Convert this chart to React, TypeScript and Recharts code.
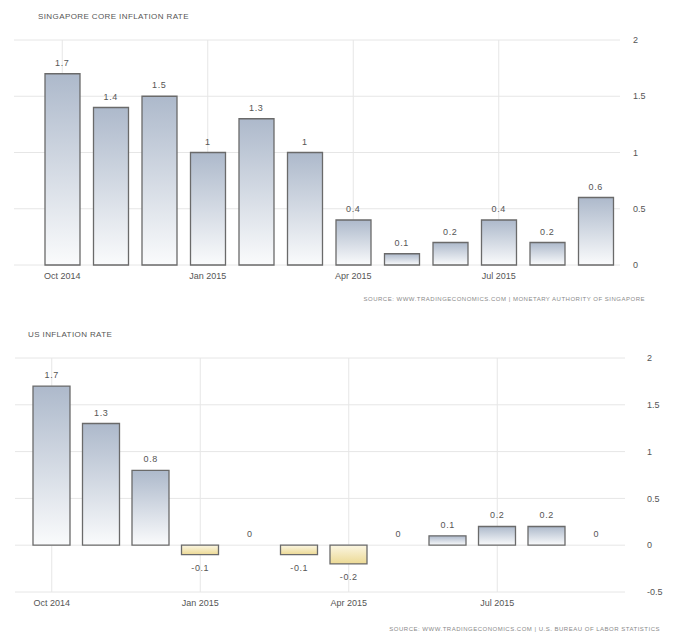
import { ComposedChart, Bar, Line, XAxis, YAxis, CartesianGrid, Cell, LabelList } from "recharts";

const months = [
  "Oct 2014", "Nov 2014", "Dec 2014", "Jan 2015", "Feb 2015", "Mar 2015",
  "Apr 2015", "May 2015", "Jun 2015", "Jul 2015", "Aug 2015", "Sep 2015",
];
const sgValues = [1.7, 1.4, 1.5, 1, 1.3, 1, 0.4, 0.1, 0.2, 0.4, 0.2, 0.6];
const usValues = [1.7, 1.3, 0.8, -0.1, 0, -0.1, -0.2, 0, 0.1, 0.2, 0.2, 0];
const sgTicks = [0, 0.5, 1, 1.5, 2];
const usTicks = [-0.5, 0, 0.5, 1, 1.5, 2];

const sgData = months.map((month, i) => ({ month, value: sgValues[i] }));
const usData = months.map((month, i) => ({ month, value: usValues[i] }));

const FONT = "'Liberation Sans', Arial, sans-serif";
const TEXT = "#555";

const sgPad = { left: 24, right: 0 };
const usPad = { left: 12, right: 4 };

// labels hang off an invisible line through the bar ends, so zero values get one too
function ValueLabel(props: any) {
  const { x, y, value } = props;
  const ty = value < 0 ? y + 16 : y - 8;
  return (
    <text x={x} y={ty} textAnchor="middle" fontSize={9} fill={TEXT} fontFamily={FONT} letterSpacing={0.6}>
      {value}
    </text>
  );
}

// vertical grid lines only under the shown month labels (same band layout as the x axis)
function quarterLines(pad: { left: number; right: number }) {
  return ({ offset }: any) => {
    const start = offset.left + pad.left;
    const band = (offset.width - pad.left - pad.right) / months.length;
    return months.map((_, i) => i).filter((i) => i % 3 === 0).map((i) => start + band * (i + 0.5));
  };
}

function Gradients({ id }: { id: string }) {
  return (
    <defs>
      <linearGradient id={`${id}-pos`} x1="0" y1="0" x2="0" y2="1">
        <stop offset="0%" stopColor="#adb9cb" />
        <stop offset="100%" stopColor="#fafbfc" />
      </linearGradient>
      <linearGradient id={`${id}-neg`} x1="0" y1="0" x2="0" y2="1">
        <stop offset="0%" stopColor="#fbf6e2" />
        <stop offset="100%" stopColor="#ecd994" />
      </linearGradient>
    </defs>
  );
}

const tickStyle = { fontSize: 9, fill: TEXT, fontFamily: FONT };

export default function App() {
  return (
    <div style={{ position: "absolute", left: 0, top: 0, width: 679, height: 637, background: "#fff", fontFamily: FONT }}>
      <div style={{ position: "absolute", left: 38, top: 12, fontSize: 8, color: TEXT, letterSpacing: 0.4 }}>
        SINGAPORE CORE INFLATION RATE
      </div>
      <div style={{ position: "absolute", left: 0, top: 0 }}>
        <ComposedChart width={679} height={300} data={sgData} margin={{ top: 40, right: 19, left: 14, bottom: 15 }}>
          <Gradients id="sg" />
          <CartesianGrid stroke="#e6e6e6" verticalCoordinatesGenerator={quarterLines(sgPad)} />
          <XAxis dataKey="month" interval={2} tickLine={false} axisLine={false} height={20} padding={sgPad} tick={tickStyle} />
          <YAxis orientation="right" domain={[0, 2]} ticks={sgTicks} width={40} tickLine={false} axisLine={false} tickMargin={7} tick={tickStyle} />
          <Bar dataKey="value" barSize={35} fill="url(#sg-pos)" stroke="#6a6a6a" strokeWidth={1.3} isAnimationActive={false} />
          <Line dataKey="value" stroke="none" dot={false} activeDot={false} isAnimationActive={false}>
            <LabelList dataKey="value" content={ValueLabel} />
          </Line>
        </ComposedChart>
      </div>
      <div style={{ position: "absolute", right: 34, top: 296, fontSize: 6, color: "#8a8a8a", letterSpacing: 0.5 }}>
        SOURCE: WWW.TRADINGECONOMICS.COM | MONETARY AUTHORITY OF SINGAPORE
      </div>

      <div style={{ position: "absolute", left: 28, top: 330, fontSize: 8, color: TEXT, letterSpacing: 0.4 }}>
        US INFLATION RATE
      </div>
      <div style={{ position: "absolute", left: 0, top: 318 }}>
        <ComposedChart width={679} height={300} data={usData} margin={{ top: 40, right: 14, left: 15, bottom: 6 }}>
          <Gradients id="us" />
          <CartesianGrid stroke="#e6e6e6" verticalCoordinatesGenerator={quarterLines(usPad)} />
          <XAxis dataKey="month" interval={2} tickLine={false} axisLine={false} height={20} padding={usPad} tick={tickStyle} />
          <YAxis orientation="right" domain={[-0.5, 2]} ticks={usTicks} width={40} tickLine={false} axisLine={false} tickMargin={16} tick={tickStyle} />
          <Bar dataKey="value" barSize={37} stroke="#6a6a6a" strokeWidth={1.3} isAnimationActive={false}>
            {usData.map((d) => (
              <Cell key={d.month} fill={d.value < 0 ? "url(#us-neg)" : "url(#us-pos)"} />
            ))}
          </Bar>
          <Line dataKey="value" stroke="none" dot={false} activeDot={false} isAnimationActive={false}>
            <LabelList dataKey="value" content={ValueLabel} />
          </Line>
        </ComposedChart>
      </div>
      <div style={{ position: "absolute", right: 19, top: 626, fontSize: 6, color: "#8a8a8a", letterSpacing: 0.5 }}>
        SOURCE: WWW.TRADINGECONOMICS.COM | U.S. BUREAU OF LABOR STATISTICS
      </div>
    </div>
  );
}
